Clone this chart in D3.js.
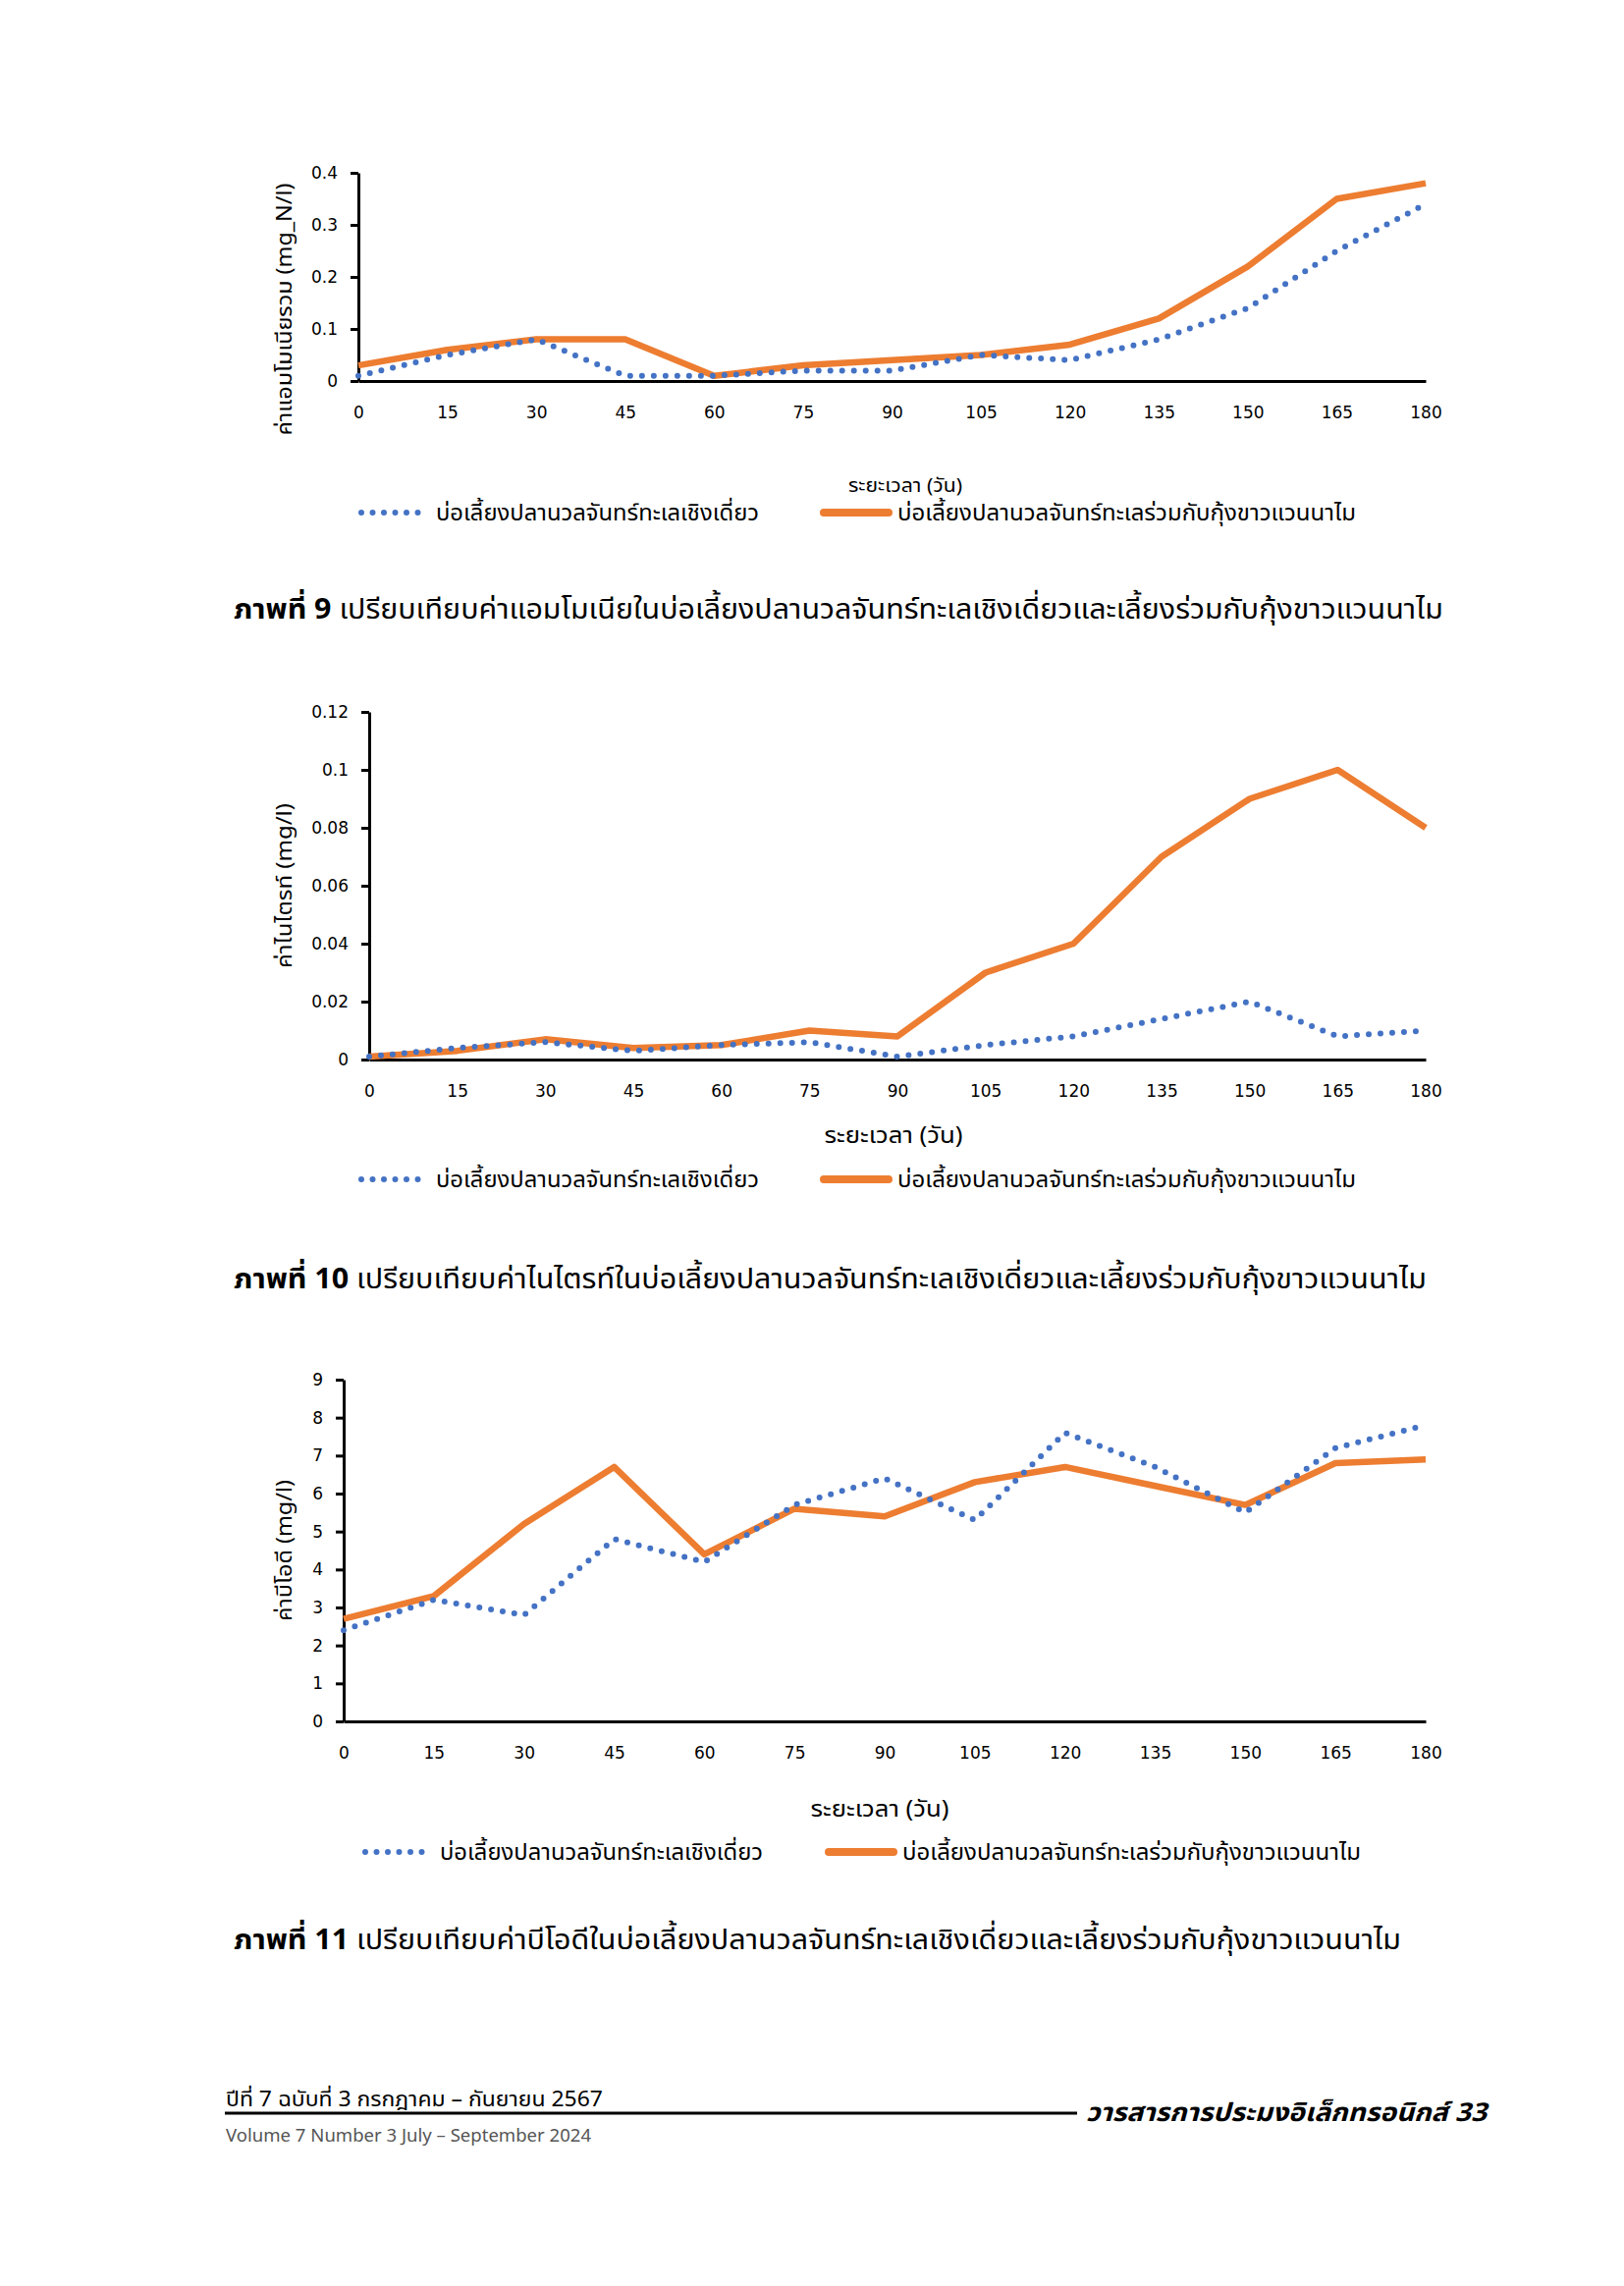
<!DOCTYPE html>
<html>
<head>
<meta charset="utf-8">
<script src="https://cdn.jsdelivr.net/npm/d3@7/dist/d3.min.js"></script>
<style>
  body { margin: 0; background: #fff; }
  svg { display: block; }
  text { font-family: Tahoma, "Noto Sans Thai", "Leelawadee UI", "DejaVu Sans", sans-serif; fill: #000; }
  .tick text { font-family: Tahoma, "DejaVu Sans", sans-serif; }
</style>
</head>
<body>
<svg id="page"></svg>
<script>
// days of culture
const days = [0, 15, 30, 45, 60, 75, 90, 105, 120, 135, 150, 165, 180];

// total ammonia (mg_N/l)
const ammoniaMono = [0.01, 0.05, 0.08, 0.01, 0.01, 0.02, 0.02, 0.05, 0.04, 0.08, 0.14, 0.25, 0.34];
const ammoniaPoly = [0.03, 0.06, 0.08, 0.08, 0.01, 0.03, 0.04, 0.05, 0.07, 0.12, 0.22, 0.35, 0.38];
const ammoniaTicks = [0, 0.1, 0.2, 0.3, 0.4];

// nitrite (mg/l)
const nitriteMono = [0.001, 0.004, 0.006, 0.003, 0.005, 0.006, 0.001, 0.005, 0.008, 0.014, 0.02, 0.008, 0.01];
const nitritePoly = [0.001, 0.003, 0.007, 0.004, 0.005, 0.01, 0.008, 0.03, 0.04, 0.07, 0.09, 0.1, 0.08];
const nitriteTicks = [0, 0.02, 0.04, 0.06, 0.08, 0.1, 0.12];

// BOD (mg/l)
const bodMono = [2.4, 3.2, 2.8, 4.8, 4.2, 5.7, 6.4, 5.3, 7.6, 6.7, 5.5, 7.2, 7.8];
const bodPoly = [2.7, 3.3, 5.2, 6.7, 4.4, 5.6, 5.4, 6.3, 6.7, 6.2, 5.7, 6.8, 6.9];
const bodTicks = [0, 1, 2, 3, 4, 5, 6, 7, 8, 9];

const seriesNames = ['บ่อเลี้ยงปลานวลจันทร์ทะเลเชิงเดี่ยว', 'บ่อเลี้ยงปลานวลจันทร์ทะเลร่วมกับกุ้งขาวแวนนาไม'];
const xTitle = 'ระยะเวลา (วัน)';

const blue = '#4472C4';
const orange = '#ED7D31';

const W = 1654, H = 2328;
const svg = d3.select('#page').attr('width', W).attr('height', H);
svg.append('rect').attr('width', W).attr('height', H).attr('fill', '#fff');

// text squeezed/stretched to the width it has on the printed page
const fitText = (sel, len) => sel.attr('textLength', len).attr('lengthAdjust', 'spacingAndGlyphs');

const charts = [
  {
    mono: ammoniaMono, poly: ammoniaPoly, ticks: ammoniaTicks,
    left: 365, right: 1452, top: 176, bottom: 388,
    yTitle: 'ค่าแอมโมเนียรวม (mg_N/l)', yTitleY: 315, yTitleLen: 257,
    xTitleX: 922, xTitleY: 494, xTitleSize: 19, xTitleLen: 116,
    legendY: 522, legendX: [365, 835],
    captionY: 620, captionLen: 1232, captionNum: 'ภาพที่ 9',
    caption: 'เปรียบเทียบค่าแอมโมเนียในบ่อเลี้ยงปลานวลจันทร์ทะเลเชิงเดี่ยวและเลี้ยงร่วมกับกุ้งขาวแวนนาไม'
  },
  {
    mono: nitriteMono, poly: nitritePoly, ticks: nitriteTicks,
    left: 376, right: 1452, top: 725, bottom: 1079,
    yTitle: 'ค่าไนไตรท์ (mg/l)', yTitleY: 902, yTitleLen: 168,
    xTitleX: 910, xTitleY: 1156, xTitleSize: 23, xTitleLen: 141,
    legendY: 1201, legendX: [365, 835],
    captionY: 1302, captionLen: 1215, captionNum: 'ภาพที่ 10',
    caption: 'เปรียบเทียบค่าไนไตรท์ในบ่อเลี้ยงปลานวลจันทร์ทะเลเชิงเดี่ยวและเลี้ยงร่วมกับกุ้งขาวแวนนาไม'
  },
  {
    mono: bodMono, poly: bodPoly, ticks: bodTicks,
    left: 350, right: 1452, top: 1405, bottom: 1753,
    yTitle: 'ค่าบีโอดี (mg/l)', yTitleY: 1579, yTitleLen: 144,
    xTitleX: 896, xTitleY: 1842, xTitleSize: 23, xTitleLen: 141,
    legendY: 1886, legendX: [369, 840],
    captionY: 1975, captionLen: 1189, captionNum: 'ภาพที่ 11',
    caption: 'เปรียบเทียบค่าบีโอดีในบ่อเลี้ยงปลานวลจันทร์ทะเลเชิงเดี่ยวและเลี้ยงร่วมกับกุ้งขาวแวนนาไม'
  }
];

charts.forEach(c => {
  const x = d3.scaleLinear().domain([0, 180]).range([c.left, c.right]);
  const y = d3.scaleLinear().domain([0, c.ticks[c.ticks.length - 1]]).range([c.bottom, c.top]);
  const g = svg.append('g');

  // y axis
  const yAxis = g.append('g')
    .attr('transform', `translate(${c.left},0)`)
    .call(d3.axisLeft(y).tickValues(c.ticks).tickSize(8).tickSizeOuter(0).tickPadding(13).tickFormat(d => String(d)));
  yAxis.select('.domain').attr('stroke', '#000').attr('stroke-width', 3);
  yAxis.selectAll('.tick line').attr('stroke', '#000').attr('stroke-width', 3);
  yAxis.selectAll('.tick text').attr('font-size', 17).attr('font-family', null);

  // x axis (labels only, no tick marks)
  const xAxis = g.append('g')
    .attr('transform', `translate(0,${c.bottom})`)
    .call(d3.axisBottom(x).tickValues(days).tickSize(0).tickSizeOuter(0).tickPadding(26).tickFormat(d => String(d)));
  xAxis.select('.domain').attr('stroke', '#000').attr('stroke-width', 3);
  xAxis.selectAll('.tick text').attr('font-size', 17).attr('font-family', null);

  const line = d3.line().x((d, i) => x(days[i])).y(d => y(d));

  g.append('path').datum(c.poly)
    .attr('d', line)
    .attr('fill', 'none')
    .attr('stroke', orange)
    .attr('stroke-width', 6.5)
    .attr('stroke-linejoin', 'round');

  g.append('path').datum(c.mono)
    .attr('d', line)
    .attr('fill', 'none')
    .attr('stroke', blue)
    .attr('stroke-width', 6)
    .attr('stroke-linecap', 'round')
    .attr('stroke-dasharray', '0 12');

  // y title
  g.append('text')
    .attr('transform', `translate(${297},${c.yTitleY}) rotate(-90)`)
    .attr('text-anchor', 'middle')
    .attr('font-size', 22)
    .text(c.yTitle)
    .call(fitText, c.yTitleLen);

  // x title
  g.append('text')
    .attr('x', c.xTitleX).attr('y', c.xTitleY + c.xTitleSize * 0.35)
    .attr('text-anchor', 'middle')
    .attr('font-size', c.xTitleSize)
    .text(xTitle)
    .call(fitText, c.xTitleLen);

  // legend
  const lg = g.append('g').attr('transform', `translate(0,${c.legendY})`);
  lg.append('line')
    .attr('x1', c.legendX[0] + 3).attr('x2', c.legendX[0] + 68)
    .attr('stroke', blue).attr('stroke-width', 6)
    .attr('stroke-linecap', 'round').attr('stroke-dasharray', '0 11.5');
  lg.append('text')
    .attr('x', c.legendX[0] + 79).attr('y', 8)
    .attr('font-size', 23)
    .text(seriesNames[0])
    .call(fitText, 329);
  lg.append('line')
    .attr('x1', c.legendX[1] + 4).attr('x2', c.legendX[1] + 70)
    .attr('stroke', orange).attr('stroke-width', 8)
    .attr('stroke-linecap', 'round');
  lg.append('text')
    .attr('x', c.legendX[1] + 79).attr('y', 8)
    .attr('font-size', 23)
    .text(seriesNames[1])
    .call(fitText, 467);

  // caption
  const cap = g.append('text')
    .attr('x', 238).attr('y', c.captionY + 10)
    .attr('font-size', 29);
  cap.append('tspan').attr('font-weight', 'bold').text(c.captionNum + ' ');
  cap.append('tspan').text(c.caption);
  cap.call(fitText, c.captionLen);
});

// footer
const foot = svg.append('g');
foot.append('text')
  .attr('x', 230).attr('y', 2145)
  .attr('font-size', 21)
  .text('ปีที่ 7 ฉบับที่ 3 กรกฎาคม – กันยายน 2567')
  .call(fitText, 384);
foot.append('line')
  .attr('x1', 229).attr('x2', 1097).attr('y1', 2152).attr('y2', 2152)
  .attr('stroke', '#000').attr('stroke-width', 3);
foot.append('text')
  .attr('x', 1514).attr('y', 2160)
  .attr('text-anchor', 'end')
  .attr('font-size', 26).attr('font-weight', 'bold').attr('font-style', 'italic')
  .text('วารสารการประมงอิเล็กทรอนิกส์  33')
  .call(fitText, 408);
foot.append('text')
  .attr('x', 230).attr('y', 2181)
  .attr('font-size', 18).style('fill', '#555')
  .text('Volume 7 Number 3 July – September 2024')
  .call(fitText, 372);
</script>
</body>
</html>
